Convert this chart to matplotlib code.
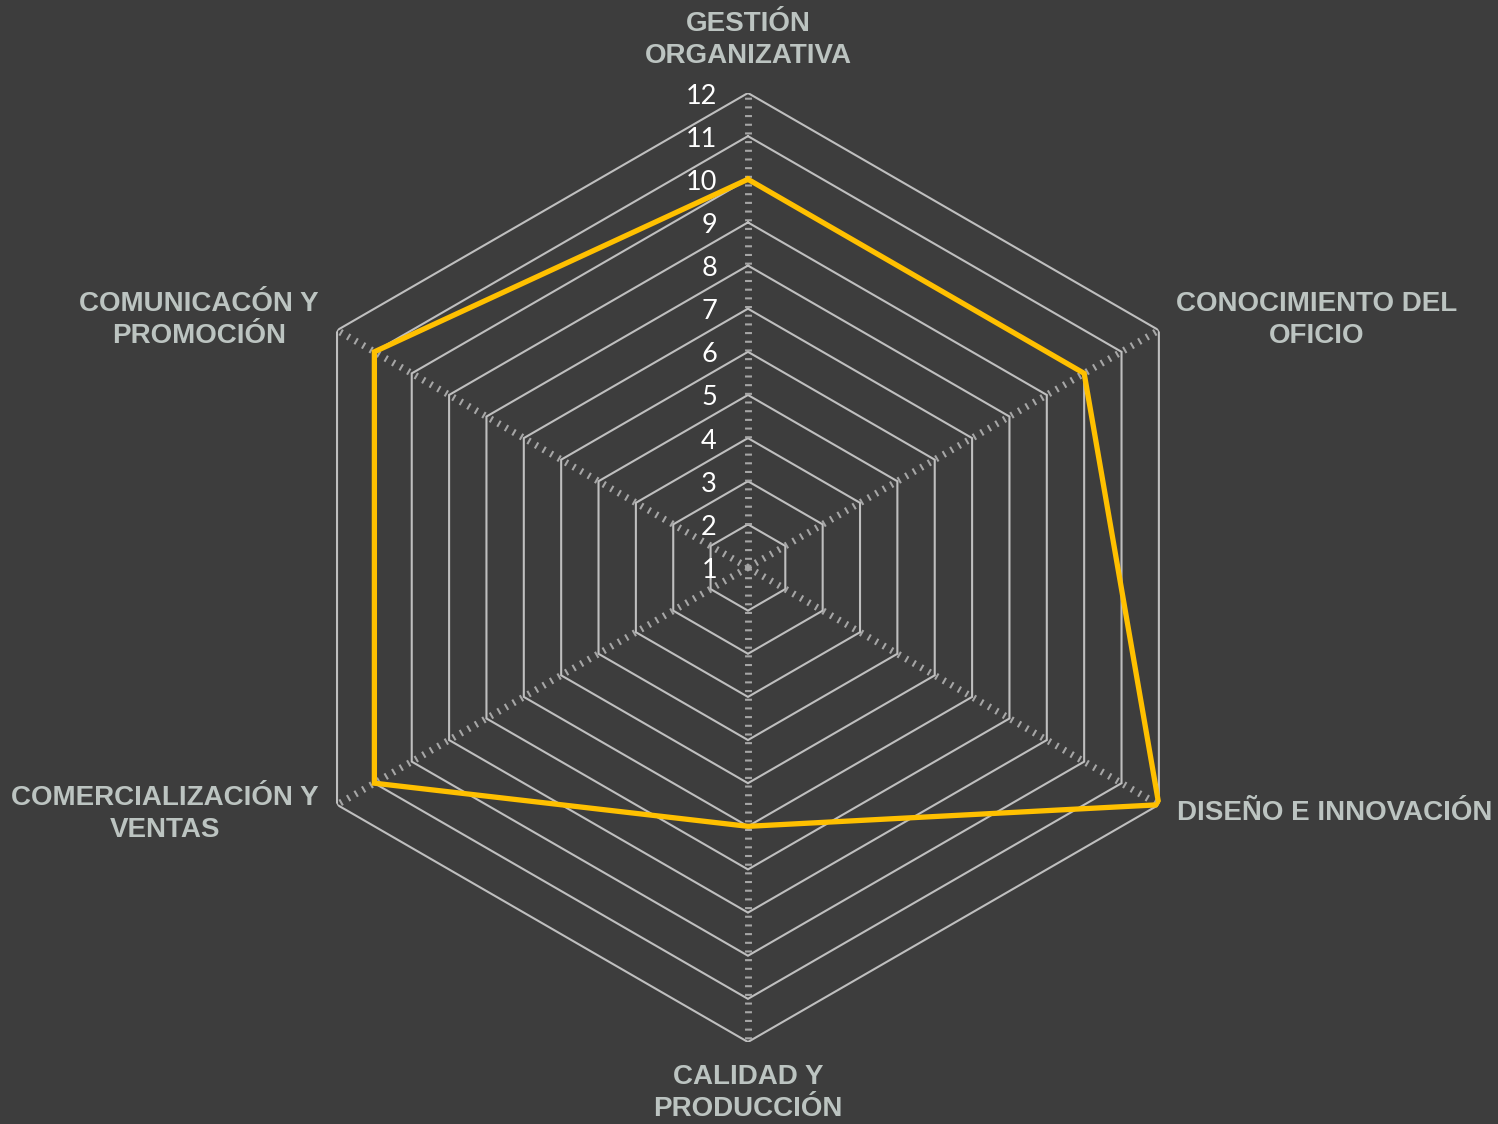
import numpy as np
import matplotlib
matplotlib.use("Agg")
import matplotlib.pyplot as plt
import matplotlib.transforms as mtransforms

# datos del radar (sentido horario desde arriba)
categorias = [
    "GESTIÓN\nORGANIZATIVA",
    "CONOCIMIENTO DEL\nOFICIO",
    "DISEÑO E INNOVACIÓN",
    "CALIDAD Y\nPRODUCCIÓN",
    "COMERCIALIZACIÓN Y\nVENTAS",
    "COMUNICACÓN Y\nPROMOCIÓN",
]
valores = [10, 10, 12, 7, 11, 11]
niveles = list(range(1, 13))

bg = "#3d3d3d"
grid_color = "#bfbfbf"
spoke_color = "#a6a6a6"
line_color = "#ffc000"
label_color = "#bcc4c1"

fig = plt.figure(figsize=(14.98, 11.24), dpi=100, facecolor=bg)
ax = fig.add_axes([0.18254, 0.07295, 0.63352, 0.8443], projection="polar")
ax.set_facecolor(bg)
ax.patch.set_alpha(0)
ax.set_theta_zero_location("N")
ax.set_theta_direction(-1)
ax.set_ylim(niveles[0], niveles[-1])
ax.grid(False)
ax.spines["polar"].set_visible(False)
ax.set_xticks([])
ax.set_yticks([])

n = len(categorias)
theta = np.arange(n) * 2 * np.pi / n
theta_c = np.append(theta, theta[0])

# hexagonos de la rejilla
for k in niveles[1:]:
    ax.plot(theta_c, [k] * (n + 1), color=grid_color, lw=1.5, zorder=1,
            solid_joinstyle="miter")

# radios punteados
for t in theta:
    ax.plot([t, t], [niveles[0], niveles[-1]], color=spoke_color, lw=5,
            dashes=(0.3, 0.95), dash_capstyle="butt", zorder=1)

# serie
ax.plot(theta_c, valores + valores[:1], color=line_color, lw=3.8, zorder=3,
        solid_joinstyle="miter")

# etiquetas del eje de valores
off = mtransforms.offset_copy(ax.transData, fig, x=-31, y=-3, units="dots")
for k in niveles:
    ax.text(0, k, str(k), transform=off, ha="right", va="center",
            color="white", fontsize=19.5, family=["Lato", "DejaVu Sans"], zorder=4)

# etiquetas de categorias (posiciones en pixeles de la figura)
pos = [(748, 40), (1317, 320), (1335, 813), (748, 1093), (165, 814), (199, 320)]
W, H = 1498, 1124
for txt, (px, py) in zip(categorias, pos):
    fig.text(px / W, 1 - py / H, txt, ha="center", va="center",
             multialignment="center", color=label_color, fontsize=20,
             fontweight="bold", family="Liberation Sans", linespacing=1.28)

fig.savefig("out.png", dpi=100, facecolor=bg)
